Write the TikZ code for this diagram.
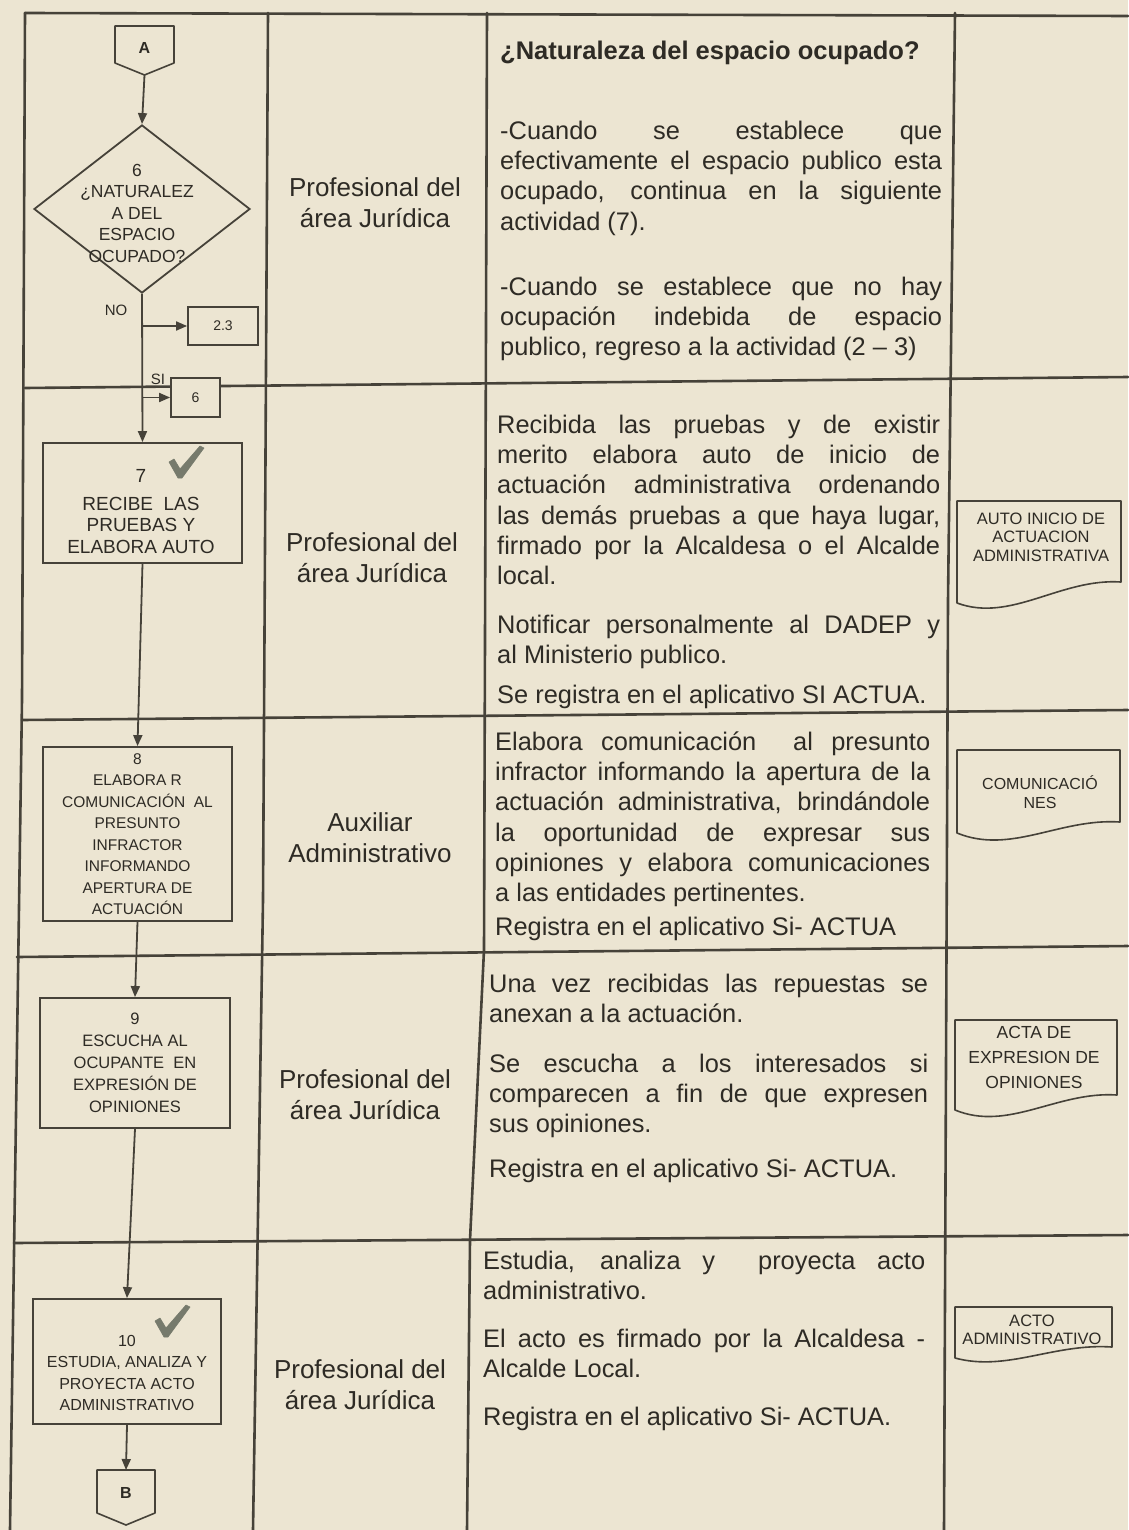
\documentclass[tikz,border=0pt]{standalone}
\usepackage{fontspec}
\setmainfont{Liberation Sans}
\usetikzlibrary{arrows.meta,shapes.geometric}
\definecolor{bg}{RGB}{236,229,210}
\definecolor{ink}{RGB}{46,43,37}
\definecolor{rulec}{RGB}{70,66,57}
\definecolor{tickc}{RGB}{118,122,108}
\newcommand\fsz[2]{\fontsize{#1}{#2}\selectfont}
\newcommand\docshape[6]{%
  \draw[docline] (#2,#3) -- (#1,#3) -- (#1,#4) .. controls ({#1+0.33*(#2-#1)},{#4+#6}) and ({#1+0.63*(#2-#1)},{#5-4}) .. (#2,#5) -- cycle;}
\begin{document}
\begin{tikzpicture}[x=1pt,y=-1pt,
  tline/.style={draw=rulec,line width=2.6pt,line join=round,line cap=round},
  fbox/.style={rectangle,draw=rulec,line width=1.8pt,fill=bg,inner sep=0pt,text=ink,align=center},
  flow/.style={draw=rulec,line width=1.8pt,-{Triangle[length=11pt,width=9pt]}},
  docline/.style={draw=rulec,line width=1.6pt,fill=bg,line join=round},
  desc/.style={anchor=north west,inner sep=0pt,align=justify,text=ink,
    font={\fsz{25.4}{30.3}\tolerance=10000 \hbadness=10000 \hyphenpenalty=10000 \exhyphenpenalty=10000 }},
  resp/.style={anchor=north,inner sep=0pt,align=center,text=ink,font={\fsz{26}{31}}},
  ftext/.style={anchor=north,inner sep=0pt,align=center,text=ink},
  tickmark/.style={fill=tickc,draw=tickc,line width=0.6pt,line join=round}]
\useasboundingbox (0,0) rectangle (1128,1530);
\fill[bg] (0,0) rectangle (1128,1530);
% table
\draw[tline] (25,13) -- (1128,16);
\draw[tline] (25,13) -- (22,700) -- (10,1530);
\draw[tline] (268,13) -- (263,900) -- (253,1530);
\draw[tline] (487,13) -- (484,950) -- (470,1240) -- (467,1530);
\draw[tline] (955,13) -- (948,600) -- (944,1530);
\draw[tline] (25,388) -- (1128,377);
\draw[tline] (22,720) -- (1128,710);
\draw[tline] (17,957) -- (1128,946);
\draw[tline] (14,1243) -- (1128,1235);
% connectors A / B
\draw[docline] (115,26) -- (174,26) -- (174,63) -- (144.5,75) -- (115,63) -- cycle;
\node[text=ink,font={\bfseries\fsz{16}{18}},inner sep=0pt] (A) at (144.5,48) {A};
\coordinate (Atip) at (144.5,75);
\draw[docline] (97,1470) -- (155,1470) -- (155,1513) -- (126,1525) -- (97,1513) -- cycle;
\node[text=ink,font={\bfseries\fsz{16}{18}},inner sep=0pt] (B) at (126,1493) {B};
\coordinate (Btop) at (126,1470);
% decision
\node[diamond,draw=rulec,line width=1.8pt,fill=bg,minimum width=216pt,minimum height=168pt,inner sep=0pt] (d6) at (142,209) {};
\node[ftext,font={\fsz{17.5}{21.5}}] (d6t) at (137,161) {\strut 6\\¿NATURALEZ\\A DEL\\ESPACIO\\OCUPADO?};
\node[font={\fsz{15}{18}},inner sep=0pt,text=ink] (no) at (116,310) {NO};
\node[font={\fsz{15}{18}},inner sep=0pt,text=ink] (si) at (158,379) {SI};
\node[fbox,minimum width=70pt,minimum height=38pt,font={\fsz{14}{16}}] (b23) at (223,326) {2.3};
\node[fbox,minimum width=49pt,minimum height=39pt,font={\fsz{14}{16}}] (b6) at (195.5,397.5) {6};
% activity boxes
\node[fbox,minimum width=199pt,minimum height=120pt] (b7) at (142.5,503) {};
\node[ftext,font={\fsz{19}{21.5}}] (b7t) at (141,467) {\strut 7\\[6.5pt]RECIBE\ \ LAS\\PRUEBAS Y\\ELABORA AUTO};
\fill[tickmark] (169,462) -- (174,459) -- (180,469) -- (200,446) -- (204,448) -- (182,478) -- (178,478) -- cycle;
\node[fbox,minimum width=189pt,minimum height=174pt,font={\fsz{15.5}{21.5}}] (b8) at (137.5,834)
  {8\\ELABORA R\\COMUNICACIÓN\ \ AL\\PRESUNTO\\INFRACTOR\\INFORMANDO\\APERTURA DE\\ACTUACIÓN};
\node[fbox,minimum width=190pt,minimum height=130pt,font={\fsz{16.5}{22}}] (b9) at (135,1063)
  {9\\ESCUCHA AL\\OCUPANTE\ \ EN\\EXPRESIÓN DE\\OPINIONES};
\node[fbox,minimum width=188pt,minimum height=125pt] (b10) at (127,1361.5) {};
\node[ftext,font={\fsz{16}{21.5}}] (b10t) at (127,1331) {\strut 10\\ESTUDIA, ANALIZA Y\\PROYECTA ACTO\\ADMINISTRATIVO};
\fill[tickmark] (155,1321) -- (160,1318) -- (166,1328) -- (186,1305) -- (190,1307) -- (168,1337) -- (164,1337) -- cycle;
% flow arrows
\draw[flow] (Atip) -- (d6.north);
\draw[flow] (d6.south) -- (b7.north);
\draw[flow] (b23.west -| d6.south) -- (b23.west);
\draw[flow] (b6.west -| d6.south) -- (b6.west);
\draw[flow] (b7.south) -- (b8.north);
\draw[flow] (b8.south) -- (b9.north);
\draw[flow] (b9.south) -- (b10.north);
\draw[flow] (b10.south) -- (Btop);
% responsible
\node[resp] (r1) at (375,174.3) {\strut Profesional del\\área Jurídica};
\node[resp] (r2) at (372,529.3) {\strut Profesional del\\área Jurídica};
\node[resp] (r3) at (370,809.3) {\strut Auxiliar\\Administrativo};
\node[resp] (r4) at (365,1066.3) {\strut Profesional del\\área Jurídica};
\node[resp] (r5) at (360,1356.3) {\strut Profesional del\\área Jurídica};
% descriptions
\node[anchor=base west,inner sep=0pt,text=ink,font={\bfseries\fsz{25.5}{30}}] (h1) at (500,60) {¿Naturaleza del espacio ocupado?};
\node[desc,text width=442pt] (p1) at (500,{139-21.2}) {\strut -Cuando se establece que\linebreak efectivamente el espacio publico esta\linebreak ocupado, continua en la siguiente\linebreak actividad (7).};
\node[desc,text width=442pt] (p2) at (500,{295-21.2}) {\strut -Cuando se establece que no hay\linebreak ocupación indebida de espacio\linebreak publico, regreso a la actividad (2 – 3)};
\node[desc,text width=443pt] (p3) at (497,{433-21.2}) {\strut Recibida las pruebas y de existir\linebreak merito elabora auto de inicio de\linebreak actuación administrativa ordenando\linebreak las demás pruebas a que haya lugar,\linebreak firmado por la Alcaldesa o el Alcalde\linebreak local.};
\node[desc,text width=443pt] (p4) at (497,{633-21.2}) {\strut Notificar personalmente al DADEP y\linebreak al Ministerio publico.};
\node[desc,text width=443pt] (p5) at (497,{703-21.2}) {\strut Se registra en el aplicativo SI ACTUA.};
\node[desc,text width=435pt] (p6) at (495,{750-21.2}) {\strut Elabora comunicación\ \ al presunto\linebreak infractor informando la apertura de la\linebreak actuación administrativa, brindándole\linebreak la oportunidad de expresar sus\linebreak opiniones y elabora comunicaciones\linebreak a las entidades pertinentes.};
\node[desc,text width=435pt] (p7) at (495,{935-21.2}) {\strut Registra en el aplicativo Si- ACTUA};
\node[desc,text width=439pt] (p8) at (489,{992-21.2}) {\strut Una vez recibidas las repuestas se\linebreak anexan a la actuación.};
\node[desc,text width=439pt] (p9) at (489,{1072-21.2}) {\strut Se escucha a los interesados si\linebreak comparecen a fin de que expresen\linebreak sus opiniones.};
\node[desc,text width=439pt] (p10) at (489,{1177-21.2}) {\strut Registra en el aplicativo Si- ACTUA.};
\node[desc,text width=442pt] (p11) at (483,{1269-21.2}) {\strut Estudia, analiza y\ \ proyecta acto\linebreak administrativo.};
\node[desc,text width=442pt] (p12) at (483,{1347-21.2}) {\strut El acto es firmado por la Alcaldesa -\linebreak Alcalde Local.};
\node[desc,text width=442pt] (p13) at (483,{1425-21.2}) {\strut Registra en el aplicativo Si- ACTUA.};
% documents
\docshape{957}{1121}{501}{603}{582}{20}
\node[ftext,font={\fsz{16.5}{18.5}}] (doc1) at (1041,511) {\strut AUTO INICIO DE\\ACTUACION\\ADMINISTRATIVA};
\docshape{957}{1120}{750}{833}{822}{22}
\node[ftext,font={\fsz{16}{19}}] (doc2) at (1040,775.7) {\strut COMUNICACIÓ\\NES};
\docshape{955}{1117}{1020}{1110}{1095}{22}
\node[ftext,font={\fsz{17.5}{25}}] (doc3) at (1034,1020.5) {\strut ACTA DE\\EXPRESION DE\\OPINIONES};
\docshape{955}{1112}{1307}{1358}{1347}{14}
\node[ftext,font={\fsz{16.5}{18}}] (doc4) at (1032,1313.4) {\strut ACTO\\ADMINISTRATIVO};
\end{tikzpicture}
\end{document}
